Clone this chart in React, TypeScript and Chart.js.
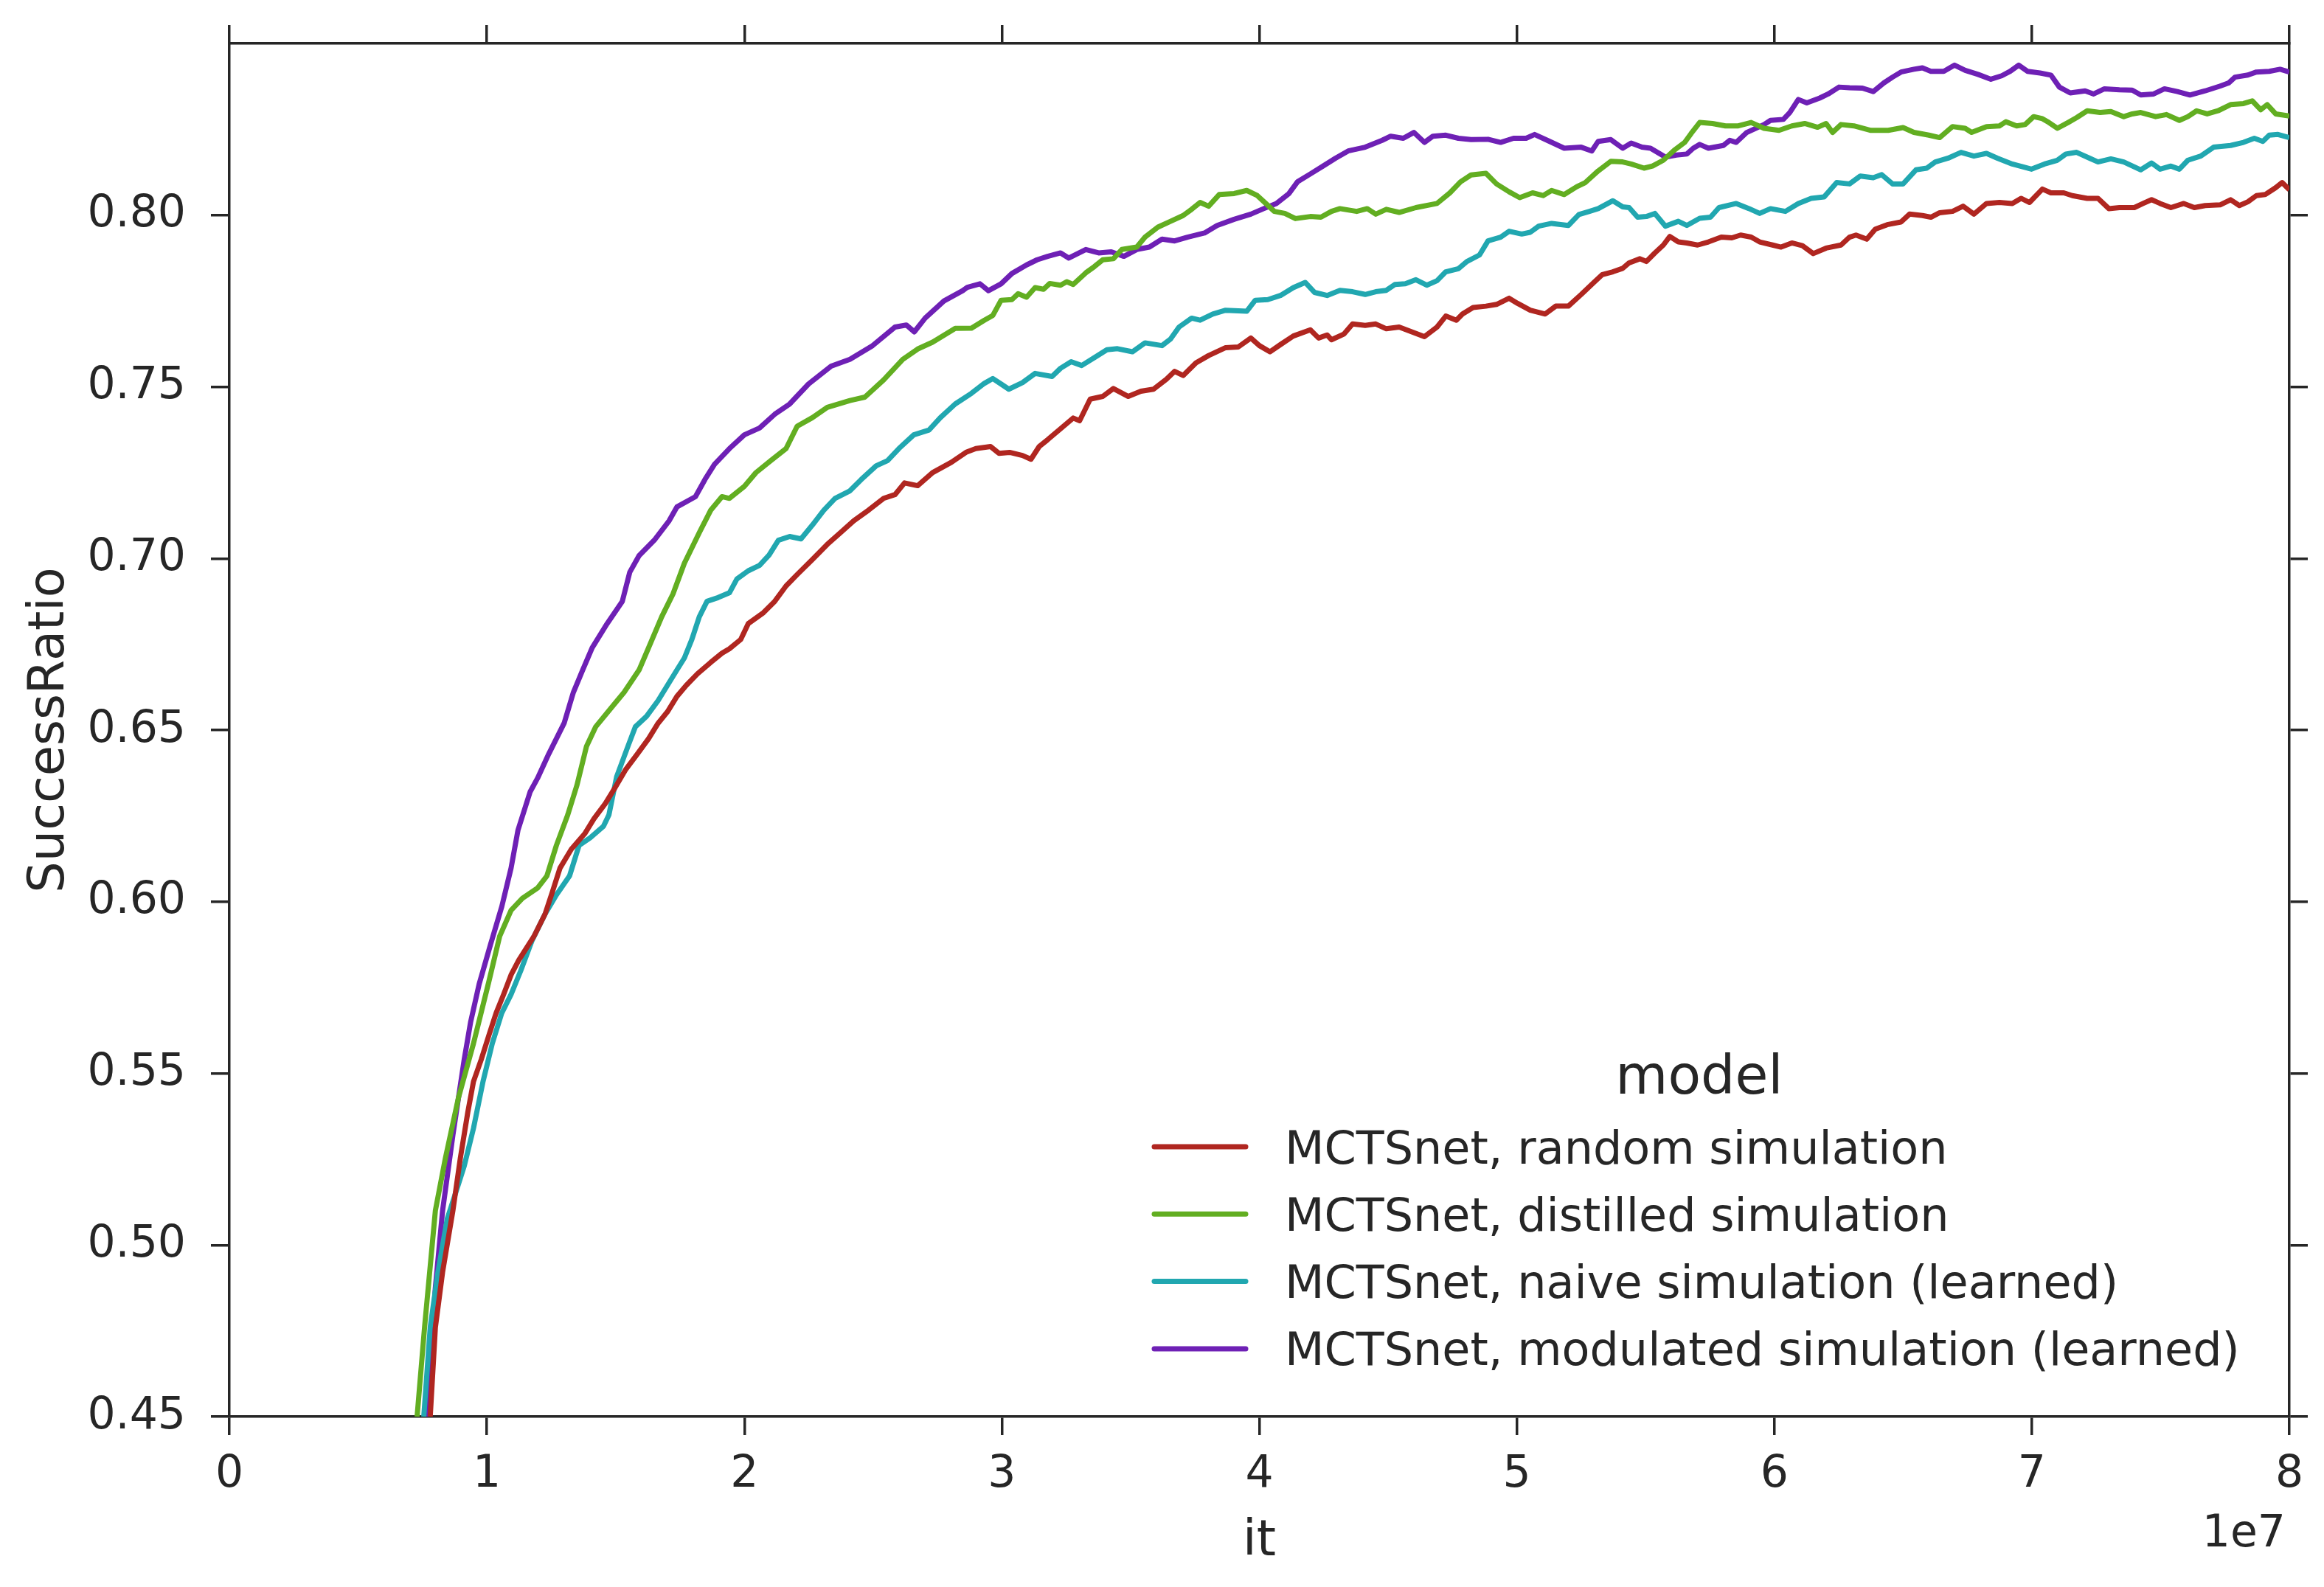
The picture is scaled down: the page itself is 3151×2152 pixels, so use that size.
import React, { useEffect, useRef } from "react";
import { Chart, registerables } from "chart.js";

Chart.register(...registerables);

// x values are in units of 1e7 iterations
const X_OFFSET_LABEL = "1e7";
const X_TICKS = [0, 1, 2, 3, 4, 5, 6, 7, 8];
const Y_TICKS = [0.45, 0.5, 0.55, 0.6, 0.65, 0.7, 0.75, 0.8];
const X_TITLE = "it";
const Y_TITLE = "SuccessRatio";
const LEGEND_TITLE = "model";
const SERIES_LABELS = [
  "MCTSnet, random simulation",
  "MCTSnet, distilled simulation",
  "MCTSnet, naive simulation (learned)",
  "MCTSnet, modulated simulation (learned)",
];
const SERIES_COLORS = ["#B02620", "#62AE21", "#21A7B0", "#6E20B5"];

const randomSim: [number, number][] = [
  [0.78, 0.45], [0.8, 0.476], [0.828, 0.4921], [0.868, 0.51], [0.897, 0.5253], [0.926, 0.5387], [0.948, 0.5476],
  [0.978, 0.554], [1.007, 0.5609], [1.036, 0.5676], [1.065, 0.573], [1.094, 0.5787], [1.124, 0.583], [1.182, 0.5898],
  [1.226, 0.5964], [1.255, 0.603], [1.284, 0.6098], [1.328, 0.6153], [1.38, 0.6198], [1.416, 0.6242], [1.46, 0.6286],
  [1.496, 0.633], [1.54, 0.6386], [1.584, 0.643], [1.628, 0.6475], [1.665, 0.652], [1.701, 0.6553], [1.738, 0.6598],
  [1.774, 0.663], [1.818, 0.6664], [1.869, 0.6697], [1.913, 0.6724], [1.942, 0.6737], [1.986, 0.6764], [2.015, 0.681],
  [2.074, 0.6842], [2.118, 0.6875], [2.162, 0.692], [2.205, 0.6953], [2.264, 0.6997], [2.322, 0.7041], [2.373, 0.7075],
  [2.425, 0.711], [2.483, 0.7141], [2.541, 0.7175], [2.585, 0.7186], [2.622, 0.722], [2.673, 0.7212], [2.731, 0.725],
  [2.804, 0.728], [2.863, 0.731], [2.899, 0.732], [2.956, 0.7326], [2.989, 0.7306], [3.03, 0.7309], [3.08, 0.73],
  [3.113, 0.7289], [3.145, 0.7326], [3.178, 0.7346], [3.228, 0.7378], [3.277, 0.7409], [3.302, 0.7401], [3.343, 0.7464],
  [3.392, 0.7472], [3.433, 0.7495], [3.491, 0.7472], [3.54, 0.7487], [3.589, 0.7493], [3.639, 0.7522], [3.671, 0.7545],
  [3.704, 0.7533], [3.754, 0.757], [3.803, 0.7591], [3.869, 0.7614], [3.918, 0.7616], [3.967, 0.7642], [4.0, 0.762],
  [4.041, 0.7602], [4.082, 0.7623], [4.132, 0.7648], [4.198, 0.7666], [4.23, 0.7642], [4.263, 0.7651], [4.28, 0.7637],
  [4.329, 0.7654], [4.362, 0.7683], [4.411, 0.7679], [4.452, 0.7683], [4.493, 0.7669], [4.543, 0.7674], [4.592, 0.766],
  [4.641, 0.7646], [4.69, 0.7674], [4.724, 0.7706], [4.765, 0.7694], [4.789, 0.7712], [4.83, 0.7731], [4.88, 0.7735],
  [4.921, 0.774], [4.97, 0.7758], [5.003, 0.7743], [5.052, 0.7723], [5.11, 0.7712], [5.151, 0.7735], [5.2, 0.7735],
  [5.25, 0.7769], [5.299, 0.7804], [5.332, 0.7827], [5.373, 0.7835], [5.411, 0.7845], [5.436, 0.7861], [5.478, 0.7873],
  [5.503, 0.7865], [5.536, 0.789], [5.569, 0.7913], [5.594, 0.7938], [5.627, 0.7922], [5.66, 0.7919], [5.702, 0.7913],
  [5.744, 0.7922], [5.794, 0.7936], [5.835, 0.7934], [5.869, 0.7942], [5.91, 0.7936], [5.943, 0.7922], [5.993, 0.7913],
  [6.026, 0.7907], [6.068, 0.7919], [6.109, 0.7911], [6.151, 0.7888], [6.201, 0.7904], [6.259, 0.7913], [6.292, 0.7936],
  [6.317, 0.7942], [6.359, 0.793], [6.392, 0.7959], [6.442, 0.7973], [6.492, 0.798], [6.525, 0.8003], [6.575, 0.7999],
  [6.608, 0.7994], [6.642, 0.8007], [6.692, 0.8011], [6.733, 0.8026], [6.775, 0.8003], [6.824, 0.8034], [6.874, 0.8037],
  [6.924, 0.8034], [6.958, 0.8049], [6.991, 0.8037], [7.041, 0.8076], [7.074, 0.8065], [7.124, 0.8065], [7.157, 0.8057],
  [7.215, 0.8049], [7.257, 0.8049], [7.299, 0.8019], [7.34, 0.8022], [7.398, 0.8022], [7.432, 0.8034], [7.465, 0.8045],
  [7.498, 0.8034], [7.54, 0.8022], [7.59, 0.8034], [7.631, 0.8022], [7.673, 0.8028], [7.731, 0.803], [7.772, 0.8045],
  [7.806, 0.8028], [7.839, 0.8039], [7.872, 0.8057], [7.906, 0.806], [7.947, 0.808], [7.972, 0.8095], [8.0, 0.8074],
];

const distilledSim: [number, number][] = [
  [0.729, 0.45], [0.758, 0.476], [0.8, 0.51], [0.839, 0.5253], [0.89, 0.543], [0.948, 0.5587], [1.007, 0.5765],
  [1.05, 0.59], [1.094, 0.5975], [1.138, 0.601], [1.197, 0.604], [1.233, 0.6075], [1.27, 0.6164], [1.314, 0.6253],
  [1.35, 0.634], [1.387, 0.6453], [1.423, 0.651], [1.482, 0.6564], [1.533, 0.661], [1.591, 0.6675], [1.628, 0.674],
  [1.679, 0.683], [1.723, 0.6897], [1.767, 0.6986], [1.825, 0.7075], [1.869, 0.714], [1.913, 0.718], [1.942, 0.7175],
  [2.0, 0.721], [2.045, 0.725], [2.103, 0.7285], [2.162, 0.732], [2.205, 0.7385], [2.264, 0.741], [2.322, 0.744],
  [2.41, 0.746], [2.468, 0.747], [2.541, 0.752], [2.615, 0.758], [2.673, 0.761], [2.731, 0.763], [2.819, 0.767],
  [2.882, 0.7671], [2.932, 0.7694], [2.965, 0.7708], [2.997, 0.7752], [3.039, 0.7754], [3.063, 0.7771], [3.096, 0.7761],
  [3.129, 0.7789], [3.162, 0.7784], [3.186, 0.7801], [3.228, 0.7796], [3.252, 0.7806], [3.277, 0.7798], [3.326, 0.7832],
  [3.359, 0.785], [3.392, 0.787], [3.433, 0.7873], [3.466, 0.79], [3.524, 0.7907], [3.556, 0.7936], [3.606, 0.7965],
  [3.655, 0.7982], [3.704, 0.7999], [3.737, 0.8017], [3.77, 0.8037], [3.803, 0.8026], [3.844, 0.806], [3.902, 0.8063],
  [3.951, 0.8072], [3.992, 0.8057], [4.025, 0.8034], [4.058, 0.8011], [4.099, 0.8005], [4.14, 0.799], [4.198, 0.7996],
  [4.239, 0.7994], [4.28, 0.8011], [4.313, 0.8019], [4.378, 0.8011], [4.419, 0.8019], [4.452, 0.8003], [4.493, 0.8017],
  [4.543, 0.8008], [4.608, 0.8022], [4.69, 0.8034], [4.74, 0.8065], [4.781, 0.8097], [4.822, 0.8117], [4.88, 0.8122],
  [4.921, 0.8091], [4.97, 0.8068], [5.011, 0.8051], [5.061, 0.8065], [5.102, 0.8057], [5.135, 0.8072], [5.184, 0.806],
  [5.233, 0.8083], [5.266, 0.8095], [5.316, 0.8129], [5.365, 0.8157], [5.411, 0.8155], [5.444, 0.8149], [5.494, 0.8137],
  [5.527, 0.8143], [5.569, 0.816], [5.611, 0.8189], [5.652, 0.8212], [5.677, 0.8238], [5.71, 0.827], [5.76, 0.8267],
  [5.81, 0.826], [5.86, 0.826], [5.91, 0.827], [5.96, 0.8253], [6.018, 0.8247], [6.068, 0.826], [6.118, 0.8267],
  [6.168, 0.8256], [6.201, 0.8267], [6.226, 0.8241], [6.259, 0.8264], [6.309, 0.826], [6.375, 0.8247], [6.442, 0.8247],
  [6.5, 0.8255], [6.542, 0.8241], [6.6, 0.8233], [6.642, 0.8226], [6.692, 0.8258], [6.741, 0.8253], [6.766, 0.8241],
  [6.824, 0.8258], [6.874, 0.826], [6.899, 0.8272], [6.941, 0.826], [6.974, 0.8264], [7.007, 0.8287], [7.041, 0.8281],
  [7.066, 0.827], [7.099, 0.8253], [7.141, 0.827], [7.174, 0.8284], [7.215, 0.8304], [7.265, 0.8299], [7.307, 0.8302],
  [7.357, 0.8287], [7.39, 0.8295], [7.423, 0.8299], [7.481, 0.8287], [7.523, 0.8293], [7.573, 0.8276], [7.606, 0.8287],
  [7.64, 0.8304], [7.681, 0.8295], [7.723, 0.8304], [7.772, 0.8322], [7.822, 0.8325], [7.856, 0.8333], [7.889, 0.8307],
  [7.914, 0.8322], [7.947, 0.8295], [8.0, 0.8289],
];

const naiveSim: [number, number][] = [
  [0.755, 0.45], [0.78, 0.476], [0.81, 0.4921], [0.846, 0.5076], [0.875, 0.5143], [0.912, 0.523], [0.948, 0.534],
  [0.985, 0.5476], [1.021, 0.5587], [1.058, 0.5676], [1.094, 0.573], [1.131, 0.5798], [1.175, 0.5886], [1.226, 0.5964],
  [1.27, 0.602], [1.321, 0.6075], [1.358, 0.6164], [1.401, 0.6186], [1.453, 0.622], [1.474, 0.6253], [1.504, 0.6364],
  [1.548, 0.6453], [1.577, 0.651], [1.62, 0.654], [1.665, 0.6586], [1.701, 0.663], [1.738, 0.6675], [1.767, 0.671],
  [1.796, 0.6764], [1.825, 0.683], [1.855, 0.6875], [1.898, 0.6886], [1.942, 0.69], [1.971, 0.694], [2.015, 0.6964],
  [2.059, 0.698], [2.096, 0.701], [2.132, 0.7053], [2.176, 0.7064], [2.22, 0.7057], [2.264, 0.7097], [2.308, 0.714],
  [2.352, 0.7175], [2.41, 0.7197], [2.454, 0.723], [2.512, 0.727], [2.556, 0.7285], [2.6, 0.732], [2.658, 0.736],
  [2.717, 0.7374], [2.761, 0.741], [2.819, 0.745], [2.882, 0.7481], [2.932, 0.751], [2.965, 0.7524], [2.997, 0.7508],
  [3.027, 0.7493], [3.08, 0.7512], [3.129, 0.7539], [3.195, 0.753], [3.228, 0.7554], [3.269, 0.7573], [3.31, 0.7562],
  [3.359, 0.7585], [3.408, 0.7608], [3.449, 0.7611], [3.507, 0.7602], [3.556, 0.7628], [3.622, 0.762], [3.655, 0.7639],
  [3.688, 0.7674], [3.737, 0.77], [3.77, 0.7694], [3.819, 0.7712], [3.869, 0.7723], [3.951, 0.772], [3.984, 0.7752],
  [4.033, 0.7754], [4.082, 0.7766], [4.132, 0.7789], [4.178, 0.7804], [4.214, 0.7775], [4.263, 0.7766], [4.313, 0.7781],
  [4.362, 0.7777], [4.411, 0.7769], [4.452, 0.7777], [4.493, 0.7781], [4.526, 0.7798], [4.567, 0.78], [4.608, 0.7812],
  [4.65, 0.7796], [4.69, 0.7809], [4.724, 0.7835], [4.773, 0.7844], [4.806, 0.7865], [4.855, 0.7884], [4.888, 0.7925],
  [4.937, 0.7936], [4.97, 0.7953], [5.019, 0.7945], [5.052, 0.795], [5.085, 0.7968], [5.135, 0.7976], [5.2, 0.797],
  [5.241, 0.8002], [5.282, 0.8011], [5.316, 0.8019], [5.373, 0.8042], [5.411, 0.8024], [5.436, 0.8022], [5.469, 0.7994],
  [5.503, 0.7996], [5.536, 0.8005], [5.577, 0.7968], [5.627, 0.7982], [5.66, 0.797], [5.71, 0.7991], [5.752, 0.7994],
  [5.785, 0.8022], [5.852, 0.8034], [5.902, 0.8019], [5.943, 0.8005], [5.985, 0.8019], [6.043, 0.8011], [6.093, 0.8034],
  [6.143, 0.8049], [6.193, 0.8053], [6.242, 0.8095], [6.292, 0.8091], [6.334, 0.8114], [6.384, 0.8109], [6.417, 0.8118],
  [6.459, 0.8091], [6.5, 0.8091], [6.55, 0.8132], [6.592, 0.8137], [6.625, 0.8155], [6.675, 0.8166], [6.725, 0.8183],
  [6.775, 0.8172], [6.824, 0.818], [6.866, 0.8166], [6.924, 0.8149], [6.999, 0.8134], [7.049, 0.8149], [7.099, 0.816],
  [7.132, 0.8178], [7.174, 0.8183], [7.224, 0.8166], [7.257, 0.8155], [7.307, 0.8164], [7.357, 0.8155], [7.423, 0.8132],
  [7.465, 0.8152], [7.498, 0.8134], [7.54, 0.8143], [7.573, 0.8134], [7.606, 0.816], [7.656, 0.8172], [7.706, 0.8198],
  [7.772, 0.8203], [7.822, 0.8212], [7.864, 0.8224], [7.897, 0.8215], [7.922, 0.8233], [7.956, 0.8235], [8.0, 0.8226],
];

const modulatedSim: [number, number][] = [
  [0.766, 0.45], [0.8, 0.4876], [0.828, 0.51], [0.868, 0.532], [0.912, 0.554], [0.937, 0.565], [0.97, 0.576],
  [1.014, 0.5875], [1.058, 0.5986], [1.094, 0.6098], [1.121, 0.6209], [1.168, 0.632], [1.197, 0.636], [1.24, 0.643],
  [1.3, 0.652], [1.336, 0.661], [1.372, 0.6675], [1.409, 0.674], [1.467, 0.681], [1.526, 0.6875], [1.555, 0.696],
  [1.591, 0.7008], [1.65, 0.7053], [1.708, 0.711], [1.738, 0.715], [1.81, 0.718], [1.847, 0.723], [1.884, 0.7274],
  [1.942, 0.732], [2.0, 0.736], [2.059, 0.738], [2.118, 0.742], [2.176, 0.745], [2.249, 0.7508], [2.337, 0.756],
  [2.41, 0.758], [2.498, 0.762], [2.585, 0.7674], [2.629, 0.768], [2.66, 0.766], [2.702, 0.77], [2.775, 0.775],
  [2.848, 0.778], [2.866, 0.779], [2.915, 0.78], [2.948, 0.778], [2.997, 0.78], [3.039, 0.783], [3.096, 0.7855],
  [3.137, 0.787], [3.178, 0.788], [3.228, 0.789], [3.26, 0.7875], [3.326, 0.79], [3.376, 0.789], [3.425, 0.7893],
  [3.474, 0.788], [3.524, 0.79], [3.573, 0.7907], [3.622, 0.793], [3.671, 0.7925], [3.721, 0.7936], [3.787, 0.7948],
  [3.836, 0.797], [3.902, 0.7988], [3.967, 0.8003], [4.017, 0.8019], [4.066, 0.8034], [4.115, 0.8063], [4.148, 0.8097],
  [4.198, 0.812], [4.247, 0.8143], [4.296, 0.8166], [4.345, 0.8187], [4.411, 0.8198], [4.477, 0.8218], [4.51, 0.823],
  [4.559, 0.8224], [4.6, 0.8241], [4.641, 0.8212], [4.674, 0.823], [4.724, 0.8233], [4.773, 0.8224], [4.822, 0.822],
  [4.888, 0.8221], [4.937, 0.8212], [4.987, 0.8224], [5.036, 0.8224], [5.069, 0.8235], [5.118, 0.8218], [5.184, 0.8195],
  [5.25, 0.8198], [5.291, 0.8187], [5.316, 0.8215], [5.365, 0.822], [5.411, 0.8195], [5.444, 0.821], [5.486, 0.8198],
  [5.519, 0.8195], [5.577, 0.8169], [5.619, 0.8175], [5.66, 0.8178], [5.685, 0.8195], [5.71, 0.8206], [5.744, 0.8195],
  [5.802, 0.8203], [5.827, 0.8218], [5.852, 0.8212], [5.893, 0.8241], [5.96, 0.8264], [5.985, 0.8276], [6.035, 0.8279],
  [6.06, 0.8299], [6.093, 0.8337], [6.126, 0.8327], [6.176, 0.8341], [6.209, 0.8353], [6.251, 0.8373], [6.292, 0.8371],
  [6.342, 0.837], [6.384, 0.836], [6.425, 0.8385], [6.459, 0.8402], [6.492, 0.8417], [6.542, 0.8425], [6.575, 0.8429],
  [6.608, 0.8419], [6.658, 0.8419], [6.7, 0.8437], [6.741, 0.8422], [6.791, 0.841], [6.841, 0.8396], [6.883, 0.8406],
  [6.916, 0.8419], [6.949, 0.8437], [6.983, 0.8419], [7.032, 0.8414], [7.074, 0.8408], [7.107, 0.8373], [7.149, 0.8356],
  [7.207, 0.8362], [7.24, 0.8353], [7.282, 0.8368], [7.34, 0.8365], [7.39, 0.8364], [7.423, 0.835], [7.473, 0.8353],
  [7.515, 0.8368], [7.565, 0.836], [7.614, 0.835], [7.673, 0.8362], [7.731, 0.8376], [7.764, 0.8385], [7.789, 0.8402],
  [7.839, 0.8408], [7.872, 0.8417], [7.922, 0.8419], [7.964, 0.8425], [8.0, 0.8417],
];

const SERIES = [randomSim, distilledSim, naiveSim, modulatedSim];

const W = 3151;
const H = 2152;
const TEXT = "#262626";
const FONT = '"DejaVu Sans", "Liberation Sans", sans-serif';

const legendPlugin = {
  id: "mplLegend",
  afterDraw(chart: any) {
    const ctx = chart.ctx as CanvasRenderingContext2D;
    const area = chart.chartArea;
    ctx.save();
    // scientific offset label for x axis
    ctx.fillStyle = TEXT;
    ctx.font = `60px ${FONT}`;
    ctx.textAlign = "right";
    ctx.textBaseline = "alphabetic";
    ctx.fillText(X_OFFSET_LABEL, area.right - 5, area.bottom + 176);

    // legend
    const lineX0 = area.left + 1254;
    const lineX1 = area.left + 1378;
    const textX = area.left + 1431;
    const firstY = area.top + 1496;
    const rowH = 91.3;
    ctx.font = `73px ${FONT}`;
    ctx.textAlign = "center";
    ctx.fillText(LEGEND_TITLE, area.left + 1993, area.top + 1424);
    ctx.font = `62px ${FONT}`;
    ctx.textAlign = "left";
    chart.data.datasets.forEach((ds: any, i: number) => {
      const y = firstY + i * rowH;
      ctx.strokeStyle = ds.borderColor;
      ctx.lineWidth = 7;
      ctx.lineCap = "round";
      ctx.beginPath();
      ctx.moveTo(lineX0, y);
      ctx.lineTo(lineX1, y);
      ctx.stroke();
      ctx.fillStyle = TEXT;
      ctx.fillText(ds.label, textX, y + 0.3645 * 62);
    });
    ctx.restore();
  },
};

export default function App() {
  const ref = useRef<HTMLCanvasElement | null>(null);

  useEffect(() => {
    document.body.style.margin = "0";
    const canvas = ref.current;
    if (!canvas) return;

    const gridOpts = {
      drawOnChartArea: false,
      drawTicks: true,
      tickLength: 25,
      color: TEXT,
      lineWidth: 3.5,
    };
    const borderOpts = { display: true, color: TEXT, width: 3.5 };
    const setXTicks = (scale: any) => {
      scale.ticks = X_TICKS.map((v) => ({ value: v }));
    };
    const setYTicks = (scale: any) => {
      scale.ticks = Y_TICKS.map((v) => ({ value: v }));
    };

    const chart = new Chart(canvas, {
      type: "line",
      data: {
        datasets: SERIES.map((s, i) => ({
          label: SERIES_LABELS[i],
          data: s.map(([x, y]) => ({ x, y })),
          borderColor: SERIES_COLORS[i],
          backgroundColor: SERIES_COLORS[i],
          borderWidth: 7,
          pointRadius: 0,
          tension: 0,
          fill: false,
          borderJoinStyle: "round" as const,
          borderCapStyle: "butt" as const,
        })),
      },
      options: {
        responsive: false,
        animation: false,
        devicePixelRatio: 1,
        layout: { padding: 0 },
        plugins: {
          legend: { display: false },
          tooltip: { enabled: false },
        },
        scales: {
          x: {
            type: "linear",
            position: "bottom",
            min: 0,
            max: 8,
            afterBuildTicks: setXTicks,
            afterFit: (s: any) => {
              s.height = H - 1921;
              s.paddingLeft = 0;
              s.paddingRight = 0;
            },
            ticks: {
              color: TEXT,
              font: { size: 60, family: FONT },
              padding: 18,
              maxRotation: 0,
              autoSkip: false,
              callback: (v: any) => String(v),
            },
            grid: gridOpts,
            border: borderOpts,
            title: {
              display: true,
              text: X_TITLE,
              color: TEXT,
              font: { size: 67, family: FONT },
              padding: { top: 0, bottom: 20 },
            },
          },
          x2: {
            type: "linear",
            position: "top",
            min: 0,
            max: 8,
            afterBuildTicks: setXTicks,
            afterFit: (s: any) => {
              s.height = 59;
              s.paddingLeft = 0;
              s.paddingRight = 0;
            },
            ticks: { display: false },
            grid: gridOpts,
            border: borderOpts,
          },
          y: {
            type: "linear",
            position: "left",
            min: 0.45,
            max: 0.85,
            afterBuildTicks: setYTicks,
            afterFit: (s: any) => {
              s.width = 311;
              s.paddingTop = 0;
              s.paddingBottom = 0;
            },
            ticks: {
              color: TEXT,
              font: { size: 60, family: FONT },
              padding: 34,
              autoSkip: false,
              callback: (v: any) => Number(v).toFixed(2),
            },
            grid: gridOpts,
            border: borderOpts,
            title: {
              display: true,
              text: Y_TITLE,
              color: TEXT,
              font: { size: 67, family: FONT },
              padding: { top: 28, bottom: 0 },
            },
          },
          y2: {
            type: "linear",
            position: "right",
            min: 0.45,
            max: 0.85,
            afterBuildTicks: setYTicks,
            afterFit: (s: any) => {
              s.width = W - 3104;
              s.paddingTop = 0;
              s.paddingBottom = 0;
            },
            ticks: { display: false },
            grid: gridOpts,
            border: borderOpts,
          },
        },
      },
      plugins: [legendPlugin],
    } as any);

    return () => {
      chart.destroy();
    };
  }, []);

  return (
    <div style={{ width: W, height: H, background: "#ffffff" }}>
      <canvas ref={ref} width={W} height={H} style={{ display: "block", width: W, height: H }} />
    </div>
  );
}
